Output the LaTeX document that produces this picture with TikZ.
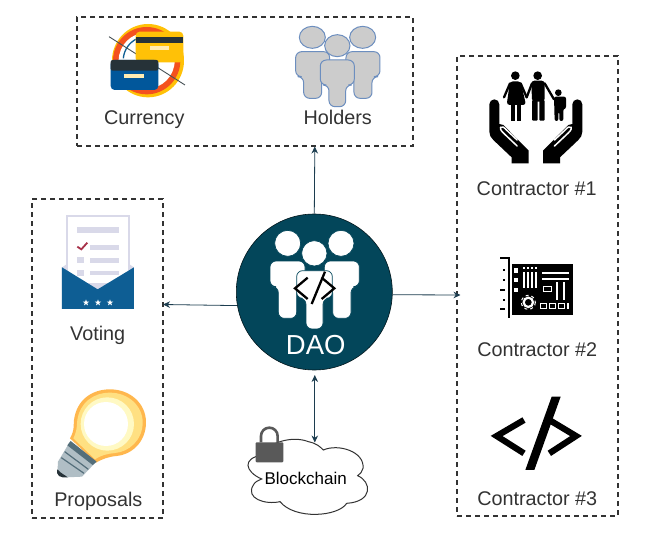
\documentclass[tikz,border=0pt]{standalone}
\usepackage{fontspec}
\setmainfont{Liberation Sans}
\usetikzlibrary{arrows.meta}
\definecolor{daoteal}{HTML}{03465A}
\definecolor{conncol}{HTML}{1C3D4F}
\definecolor{labelcol}{HTML}{333333}
\definecolor{holdfill}{HTML}{CCCCCC}
\definecolor{holdline}{HTML}{6C8EBF}
\definecolor{lav}{HTML}{D9D9E9}
\definecolor{envblue}{HTML}{0E5E94}
\definecolor{cardblue}{HTML}{01579B}
\definecolor{cardyel}{HTML}{FFC107}
\definecolor{carddark}{HTML}{263238}
\definecolor{cardlight}{HTML}{FFECB3}
\definecolor{ringred}{HTML}{F4511E}
\definecolor{bulbA}{HTML}{FFB74D}
\definecolor{bulbB}{HTML}{FFE082}
\definecolor{bulbC}{HTML}{FFF9C4}
\definecolor{baseA}{HTML}{B0BEC5}
\definecolor{baseB}{HTML}{546E7A}
\definecolor{checkred}{HTML}{A8324A}
\newcommand{\personpath}[6]{(#1,#2) -- ({#1+#3},#2) -- ({#1+#3},{#2+#4}) -- ({#1+#3-#5},{#2+#4}) -- ({#1+#3-#5},{#2+#6}) -- ({#1+#5},{#2+#6}) -- ({#1+#5},{#2+#4}) -- (#1,{#2+#4}) -- cycle}
\tikzset{
  zm/.style 2 args={shift={(#1,#2)},x=0.33333pt,y=-0.33333pt},
  dashbox/.style={draw=labelcol,line width=1.2pt,dash pattern=on 5pt off 4pt,inner sep=0pt},
  conn/.style={draw=conncol,line width=0.8pt,-{Stealth[length=7pt,width=6.5pt]}},
  conntwo/.style={draw=conncol,line width=0.8pt,{Stealth[length=7pt,width=6.5pt]}-{Stealth[length=7pt,width=6.5pt]}},
  lbl/.style={anchor=base,text=labelcol,inner sep=0pt,font=\fontsize{19.8}{22}\selectfont},
  holder/.style={fill=holdfill,draw=holdline,line width=1pt,rounded corners=6pt},
  daoperson/.style={fill=white,draw=daoteal,line width=0.7pt,rounded corners=6pt},
}
\begin{document}
\begin{tikzpicture}[x=1pt,y=-1pt]
\useasboundingbox (0,0) rectangle (649,546);
\fill[white] (0,0) rectangle (649,546);
% boxes
\node[dashbox,minimum width=336pt,minimum height=129pt] (topbox) at (245,81.5) {};
\node[dashbox,minimum width=131pt,minimum height=319pt] (leftbox) at (97.5,358.5) {};
\node[dashbox,minimum width=161pt,minimum height=460pt] (rightbox) at (537.5,286) {};
% currency icon
\begin{scope}[zm={70}{5}]
  \fill[cardyel] (234,167) circle[x radius=108,y radius=110];
  \fill[ringred] (230,167) circle[radius=101];
  \fill[white] (230,167) circle[radius=84];
  \draw[envblue,line width=1.3pt] (160,160) arc[start angle=185,end angle=290,radius=72];
  \draw[carddark!85,line width=0.9pt] (117,95) -- (345,240);
  \fill[cardyel,rounded corners=4pt] (197,80) rectangle (340,172);
  \fill[carddark] (197,96) rectangle (340,113);
  \fill[cardlight] (240,122) rectangle (298,134);
  \fill[cardblue,rounded corners=4pt] (122,165) rectangle (265,255);
  \fill[carddark,rounded corners=2pt] (122,165) rectangle (265,197);
  \fill[cardlight] (163,207) rectangle (222,219);
  % holders icon
  \draw[holder] \personpath{677}{140}{102}{75}{24}{140};
  \draw[holder] \personpath{828}{140}{102}{75}{24}{140};
  \draw[holder] (727,97) circle[x radius=39,y radius=33];
  \draw[holder] (878,97) circle[x radius=39,y radius=33];
  \draw[holder] (802,122) circle[x radius=38,y radius=33];
  \draw[holder] \personpath{751}{165}{102}{75}{26}{140};
\end{scope}
% voting icon
\begin{scope}[zm={20}{190}]
  \fill[lav] (126,232) -- (141,222) -- (327,222) -- (342,232) -- (342,300) -- (126,300) -- cycle;
  \draw[lav,fill=white,line width=1.2pt] (141,78) rectangle (327,280);
  \fill[lav] (171,111) rectangle (297,130);
  \fill[lav] (210,165) rectangle (297,180);
  \fill[lav] (172,202) rectangle (192,220);
  \fill[lav] (210,204) rectangle (297,218);
  \fill[lav] (172,240) rectangle (192,258);
  \fill[lav] (210,242) rectangle (297,256);
  \draw[checkred,line width=1.8pt] (172,170) -- (184,178) -- (202,158);
  \fill[envblue] (126,232) -- (233,298) -- (342,232) -- (342,357) -- (126,357) -- cycle;
  \foreach \sx in {198,234,270}{
    \fill[white] (\sx,338) +(-90:10) -- +(-54:4) -- +(-18:10) -- +(18:4) -- +(54:10) -- +(90:4) -- +(126:10) -- +(162:4) -- +(198:10) -- +(234:4) -- cycle;
  }
  % bulb
  \fill[bulbA] (150,745) .. controls (165,720) and (160,700) .. (162,690)
     .. controls (170,630) and (215,598) .. (270,598)
     .. controls (330,598) and (378,640) .. (378,697)
     .. controls (378,760) and (330,795) .. (290,798)
     .. controls (265,800) and (245,808) .. (228,818) -- cycle;
  \fill[bulbB] (160,745) .. controls (173,720) and (170,700) .. (172,690)
     .. controls (180,638) and (220,608) .. (270,608)
     .. controls (325,608) and (368,648) .. (368,697)
     .. controls (368,752) and (325,786) .. (285,789)
     .. controls (262,791) and (240,797) .. (225,808) -- cycle;
  \fill[bulbC] (262,702) circle[radius=80];
  \fill[white] (258,702) circle[radius=66];
  \fill[baseA] (150,755) -- (228,816) -- (186,860) -- (140,862) -- (112,850) -- (114,815) -- cycle;
  \fill[baseB] (152,753) -- (230,815) -- (218,825) -- (142,766) -- cycle;
  \draw[baseB,line width=1.2pt] (134,785) -- (205,838);
  \draw[baseB,line width=1.2pt] (124,803) -- (192,850);
  \fill[carddark] (112,838) .. controls (122,850) and (135,855) .. (143,862) .. controls (120,864) and (108,858) .. (112,838) -- cycle;
\end{scope}
% family icon
\begin{scope}[zm={450}{50}]
  \fill (196,77) circle[radius=13];
  \fill (263,77) circle[radius=13];
  \fill (325,128) circle[radius=10];
  % woman
  \fill[rounded corners=3pt] (180,94) -- (212,94) -- (228,165) -- (170,165) -- cycle;
  \fill (182,165) rectangle (194,212);
  \fill (201,165) rectangle (213,212);
  \draw[line width=2.3pt,line cap=round] (180,100) -- (162,142);
  \draw[line width=2.3pt,line cap=round] (212,100) -- (230,142);
  % man
  \fill[rounded corners=3pt] (244,92) -- (284,92) -- (284,155) -- (246,155) -- cycle;
  \fill[rounded corners=1pt] (246,150) rectangle (263,212);
  \fill[rounded corners=1pt] (268,150) rectangle (284,212);
  \draw[line width=2.3pt,line cap=round] (246,100) -- (230,142);
  \draw[line width=2.3pt,line cap=round] (284,100) -- (312,148);
  % child
  \fill[rounded corners=2pt] (312,140) -- (348,140) -- (348,176) -- (340,176) -- (340,213) -- (328,213) -- (328,185) -- (325,185) -- (325,213) -- (314,213) -- cycle;
  % hands
  \foreach \mir in {1,-1}{
    \begin{scope}[shift={(257.5,0)},xscale=\mir]
      \fill (-139.5,163) arc[start angle=180,end angle=360,radius=15]
        -- (-109.5,222) -- (-97.5,225) -- (-21.5,302) -- (-21.5,340) -- (-72.5,340) -- (-72.5,322)
        -- (-127.5,270) .. controls (-135,262) and (-139.5,256) .. (-139.5,245) -- cycle;
      \draw[white,line width=1.5pt,line cap=round] (-106,232) .. controls (-100,228) and (-95,232) .. (-88,240)
        -- (-56,270);
      \draw[white,line width=1.5pt,line cap=round] (-106,232) .. controls (-108,240) and (-100,246) .. (-92,254)
        -- (-56,288);
    \end{scope}
  }
\end{scope}
% board and code icons
\begin{scope}[zm={450}{250}]
  \fill (187,42) rectangle (368,195);
  \draw[line width=1.5pt] (150,24) -- (177,24) -- (177,203);
  \fill (158,56) rectangle (165,64);
  \fill (158,86) rectangle (165,94);
  \fill (150,116) rectangle (165,122);
  \fill (158,146) rectangle (165,154);
  \fill (150,175) rectangle (165,181);
  \foreach \vx in {218,230,242,254}{ \fill[white] (\vx,65) rectangle (\vx+6,115); \fill[white] (\vx,50) rectangle (\vx+6,56); }
  \fill[white] (192,55) rectangle (205,68);
  \fill[white] (192,85) rectangle (205,97);
  \fill[white] (192,115) rectangle (205,127);
  \fill[white] (275,65) rectangle (358,71);
  \fill[white] (275,85) rectangle (358,91);
  \draw[white,line width=1pt] (280,108) rectangle (305,125);
  \fill[white] (318,97) rectangle (325,150);
  \fill[white] (338,97) rectangle (345,150);
  \draw[white,line width=2.2pt] (235,157) circle[radius=14];
  \draw[white,line width=1pt,dashed] (235,157) circle[radius=21];
  \draw[white,line width=1pt] (272,160) rectangle (290,176);
  \draw[white,line width=1pt] (298,160) rectangle (316,176);
  \draw[white,line width=1pt] (324,160) rectangle (342,176);
  \fill[white] (350,160) rectangle (358,176);
  % code
  \draw[line width=6.2pt,miter limit=10] (222,510) -- (140,558) -- (222,610);
  \draw[line width=6.2pt,miter limit=10] (298,510) -- (378,558) -- (298,610);
  \fill (305,440) -- (332,440) -- (253,660) -- (226,660) -- cycle;
\end{scope}
% DAO
\node[circle,fill=daoteal,draw=black!70!daoteal,line width=0.6pt,minimum size=156pt,inner sep=0pt] (dao) at (314.3,292) {};
\begin{scope}[zm={225}{205}]
  \draw[daoperson] \personpath{135}{168}{105}{77}{25}{172};
  \draw[daoperson] \personpath{298}{168}{105}{77}{25}{172};
  \draw[daoperson] (188,115) circle[radius=39];
  \draw[daoperson] (348,115) circle[radius=39];
  \draw[daoperson] (268,145) circle[radius=38];
  \draw[daoperson] \personpath{215}{197}{107}{83}{28}{175};
  \draw[black,line width=2.3pt] (248,218) -- (210,250) -- (248,282);
  \draw[black,line width=2.3pt] (290,218) -- (328,250) -- (290,282);
  \draw[black,line width=2.3pt] (300,200) -- (260,297);
  % cloud
  \draw[labelcol,fill=white,line width=1pt] (110,822)
    .. controls (60,800) and (50,760) .. (112,750)
    .. controls (125,715) and (200,690) .. (250,710)
    .. controls (275,715) and (285,725) .. (295,735)
    .. controls (340,715) and (420,740) .. (414,790)
    .. controls (412,800) and (405,808) .. (398,812)
    .. controls (440,830) and (445,890) .. (365,895)
    .. controls (340,935) and (210,945) .. (165,890)
    .. controls (120,900) and (60,880) .. (85,840)
    .. controls (90,830) and (100,826) .. (110,822) -- cycle;
  % lock
  \draw[black!65,line width=2.6pt] (108,712) -- (108,693) arc[start angle=180,end angle=360,radius=25] -- (158,712);
  \fill[black!65,rounded corners=1pt] (92,712) rectangle (175,772);
\end{scope}
\coordinate (cloudtop) at (314.8,442.5);
\coordinate (topend) at (314.8,146.5);
\coordinate (leftend) at (163,304.5);
\coordinate (rightend) at (460.5,295);
\coordinate (daobottom) at (314.8,375);
\draw[conn] (dao.north) -- (topend);
\draw[conn] (dao.190) -- (leftend);
\draw[conn] (dao.358.5) -- (rightend);
\draw[conntwo] (daobottom) -- (cloudtop);
% labels
\node[lbl] (currencylbl) at (144.3,124) {Currency};
\node[lbl] (holderslbl) at (337.7,124) {Holders};
\node[lbl] (votinglbl) at (97.7,340) {Voting};
\node[lbl] (proposalslbl) at (98.3,506) {Proposals};
\node[lbl] (c1) at (536.7,195) {Contractor \#1};
\node[lbl] (c2) at (537.3,356) {Contractor \#2};
\node[lbl] (c3) at (537.3,505.7) {Contractor \#3};
\node[lbl,text=black,font=\fontsize{17}{20}\selectfont] (chain) at (305.7,484) {Blockchain};
\node[lbl,text=white,font=\fontsize{27.5}{30}\selectfont] (daolbl) at (315.7,354.3) {DAO};
\end{tikzpicture}
\end{document}
